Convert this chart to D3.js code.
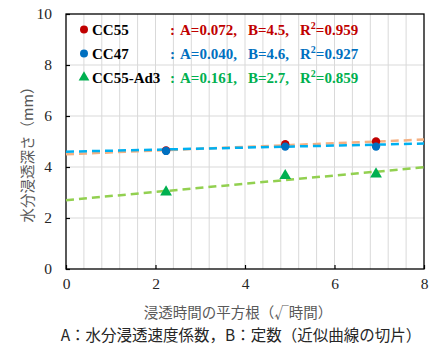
<!DOCTYPE html>
<html>
<head>
<meta charset="utf-8">
<script src="https://cdn.jsdelivr.net/npm/d3@7"></script>
<style>
  html, body { margin: 0; padding: 0; background: #fff; }
  svg { display: block; }
</style>
</head>
<body>
<svg id="chart" width="432" height="352"></svg>
<script>
// Moisture penetration depth vs. square root of exposure time
const seriesNames = ["CC55", "CC47", "CC55-Ad3"];
const sqrtHours   = [2.236, 4.899, 6.928];          // √5, √24, √48
const depthCC55   = [4.65, 4.89, 5.00];
const depthCC47   = [4.63, 4.80, 4.80];
const depthAd3    = [2.98, 3.62, 3.68];
const coefA       = [0.072, 0.040, 0.161];          // slope (penetration rate coefficient)
const coefB       = [4.5, 4.6, 2.7];                // intercept
const rSquared    = [0.959, 0.927, 0.859];
const xTicks      = [0, 2, 4, 6, 8];
const yTicks      = [0, 2, 4, 6, 8, 10];
const xTitle      = "浸透時間の平方根（√時間）";
const yTitle      = "水分浸透深さ（mm）";
const caption     = "A：水分浸透速度係数，B：定数（近似曲線の切片）";

const markerColors = ["#C00000", "#0070C0", "#00B050"];
const lineColors   = ["#F4B183", "#00B0F0", "#92D050"];
const markerShapes = [d3.symbolCircle, d3.symbolCircle, d3.symbolTriangle];
const depths = [depthCC55, depthCC47, depthAd3];

const SERIF = '"Liberation Serif", "DejaVu Serif", serif';
const CJK = '"Noto Sans CJK JP", "Noto Sans", sans-serif';

const svg = d3.select("#chart");
const m = { left: 66, right: 424, top: 14, bottom: 269 };

const x = d3.scaleLinear().domain([0, 8]).range([m.left, m.right]);
const y = d3.scaleLinear().domain([0, 10]).range([m.bottom, m.top]);

// minor vertical gridlines every 0.4
const vGrid = d3.range(1, 20).map(i => i * 0.4);
svg.append("g").selectAll("line").data(vGrid).join("line")
  .attr("x1", d => x(d)).attr("x2", d => x(d))
  .attr("y1", m.top).attr("y2", m.bottom)
  .attr("stroke", "#D9D9D9").attr("stroke-width", 1);

// horizontal gridlines at major ticks
svg.append("g").selectAll("line").data(yTicks.slice(1, -1)).join("line")
  .attr("x1", m.left).attr("x2", m.right)
  .attr("y1", d => y(d)).attr("y2", d => y(d))
  .attr("stroke", "#D9D9D9").attr("stroke-width", 1);

// axes with inward ticks
const xAxis = svg.append("g")
  .attr("transform", `translate(0,${m.bottom})`)
  .call(d3.axisBottom(x).tickValues(xTicks).tickSizeInner(-4).tickSizeOuter(0).tickPadding(17).tickFormat(d3.format("d")));
const yAxis = svg.append("g")
  .attr("transform", `translate(${m.left},0)`)
  .call(d3.axisLeft(y).tickValues(yTicks).tickSizeInner(-4).tickSizeOuter(0).tickPadding(14).tickFormat(d3.format("d")));
[xAxis, yAxis].forEach(a => {
  a.attr("font-family", null).attr("font-size", null);
  a.select(".domain").remove();
  a.selectAll(".tick line").attr("stroke", "#000").attr("stroke-width", 1.2);
  a.selectAll(".tick text")
    .style("font-family", SERIF).style("font-size", "15.5px").attr("fill", "#262626");
});
xAxis.selectAll(".tick text").attr("dy", "0.2em");

// plot frame
svg.append("rect")
  .attr("x", m.left).attr("y", m.top)
  .attr("width", m.right - m.left).attr("height", m.bottom - m.top)
  .attr("fill", "none").attr("stroke", "#000").attr("stroke-width", 1.3);

// linear trend lines y = A·x + B
const plot = svg.append("g");
seriesNames.forEach((name, i) => {
  const [x0, x1] = x.domain();
  plot.append("line")
    .attr("x1", x(x0)).attr("y1", y(coefA[i] * x0 + coefB[i]))
    .attr("x2", x(x1)).attr("y2", y(coefA[i] * x1 + coefB[i]))
    .attr("stroke", lineColors[i]).attr("stroke-width", 2.5)
    .attr("stroke-dasharray", "8,5");
});

// data markers
seriesNames.forEach((name, i) => {
  const sym = d3.symbol().type(markerShapes[i]).size(i === 2 ? 60 : 55);
  plot.append("g").selectAll("path").data(sqrtHours.map((t, k) => [t, depths[i][k]])).join("path")
    .attr("transform", d => `translate(${x(d[0])},${y(d[1]) + (i === 2 ? -1 : 0)})`)
    .attr("d", sym)
    .attr("fill", markerColors[i]);
});

// legend with regression coefficients
const legend = svg.append("g");
const baselines = [35, 59, 83];
seriesNames.forEach((name, i) => {
  const by = baselines[i];
  const sym = d3.symbol().type(markerShapes[i]).size(50);
  legend.append("path")
    .attr("transform", `translate(84,${by - 5.5})`)
    .attr("d", sym).attr("fill", markerColors[i]);
  legend.append("text")
    .attr("x", 92).attr("y", by)
    .style("font-family", SERIF).style("font-weight", "bold").style("font-size", "15px")
    .attr("fill", "#000").text(name);
  const g = legend.append("g").attr("fill", markerColors[i]);
  const label = (xPos) => g.append("text").attr("x", xPos).attr("y", by)
    .style("font-family", SERIF).style("font-weight", "bold").style("font-size", "15px");
  label(170).text(":");
  label(180).text(`A=${coefA[i].toFixed(3)},`);
  label(248).text(`B=${coefB[i].toFixed(1)},`);
  const r = label(300);
  r.append("tspan").text("R");
  r.append("tspan").style("font-size", "10px").attr("dy", -6).text("2");
  r.append("tspan").attr("dy", 6).text(`=${rSquared[i].toFixed(3)}`);
});

// axis titles and caption
svg.append("text")
  .attr("x", 238).attr("y", 318)
  .attr("text-anchor", "middle")
  .style("font-family", CJK).style("font-size", "14.5px").attr("fill", "#595959")
  .text(xTitle);
svg.append("text")
  .attr("transform", "translate(33,151) rotate(-90)")
  .attr("text-anchor", "middle")
  .style("font-family", CJK).style("font-size", "14.5px").attr("fill", "#595959")
  .text(yTitle);
svg.append("text")
  .attr("x", 241).attr("y", 341)
  .attr("text-anchor", "middle")
  .style("font-family", CJK).style("font-size", "15.5px").attr("fill", "#262626")
  .text(caption);
</script>
</body>
</html>
